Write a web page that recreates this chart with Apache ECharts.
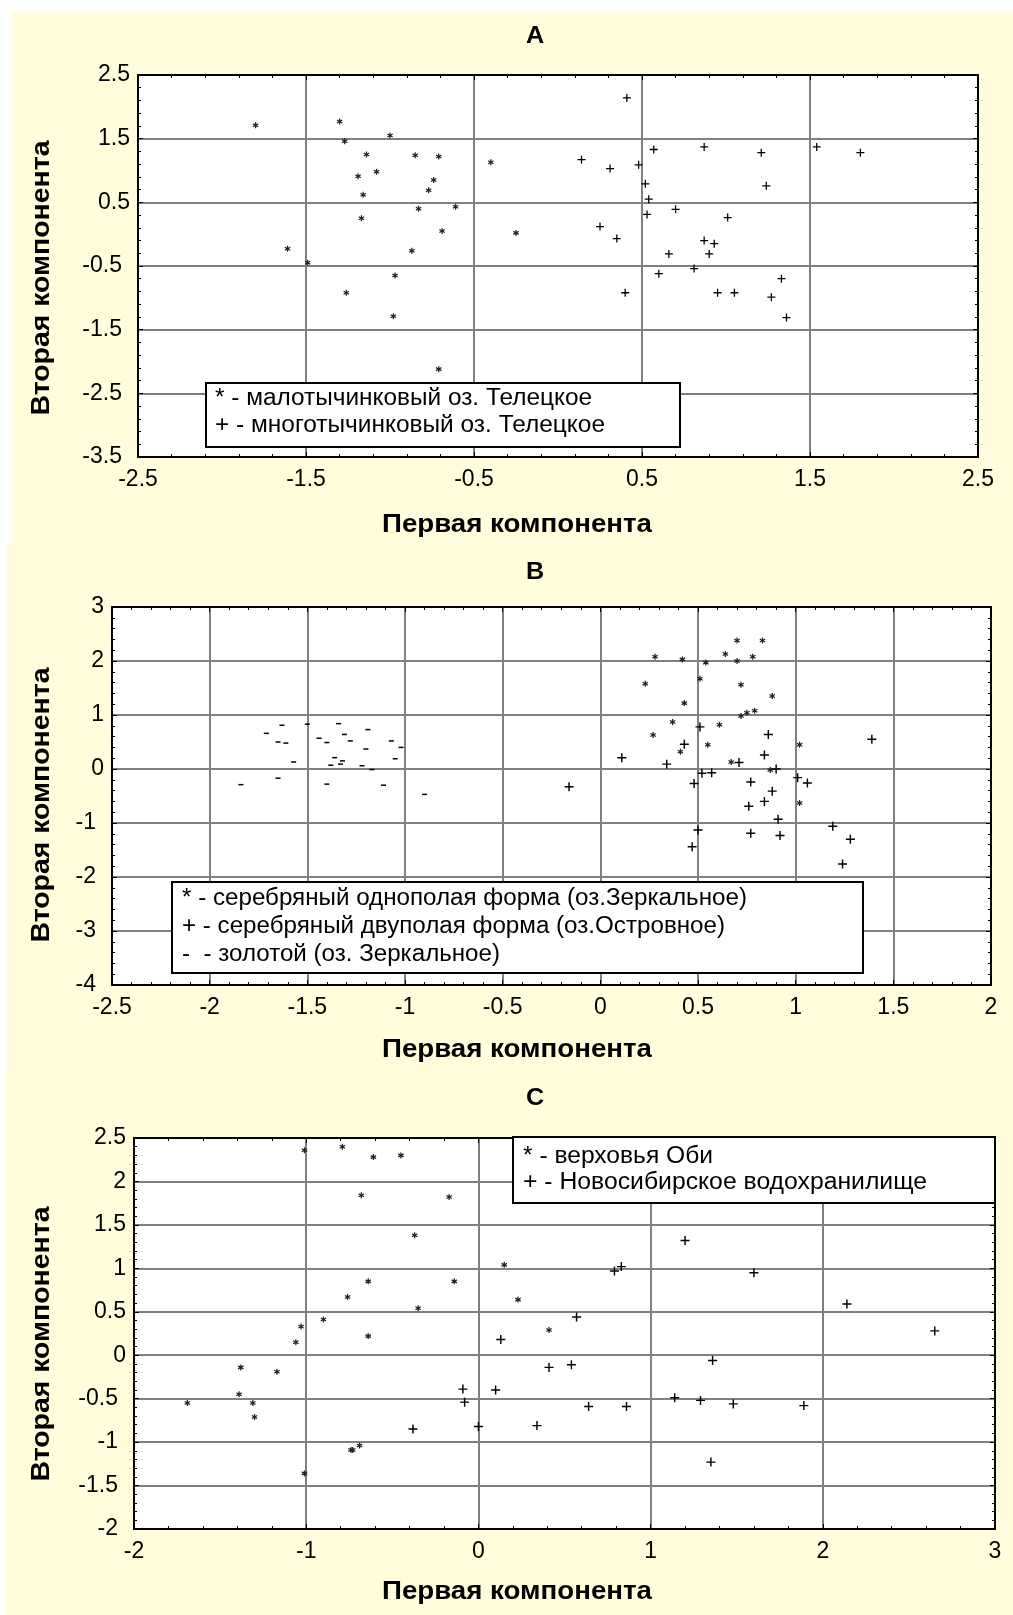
<!DOCTYPE html>
<html><head><meta charset="utf-8">
<script src="https://cdn.jsdelivr.net/npm/echarts@6/dist/echarts.min.js"></script>
<style>html,body{margin:0;padding:0;background:#fff}#c{width:1013px;height:1615px}</style>
</head><body><div id="c"></div><script>
// ---------- DATA ----------
// Panel A
const aTitle = 'A';
const aFewX = [-1.80,-1.30,-1.27,-1.00,-1.14,-0.85,-0.71,-1.19,-1.08,-0.74,-0.77,-1.16,-0.61,-0.83,-1.17,-0.69,-0.87,-1.61,-1.49,-0.97,-1.26,-0.98,-0.71,-0.40,-0.25];
const aFewY = [1.71,1.77,1.46,1.55,1.25,1.24,1.22,0.91,0.98,0.85,0.69,0.62,0.43,0.40,0.25,0.05,-0.26,-0.23,-0.45,-0.65,-0.92,-1.29,-2.12,1.13,0.02];
const aManyX = [0.41,0.57,0.87,1.21,1.54,1.80,0.14,0.31,0.48,0.52,1.24,0.54,0.53,0.70,1.01,0.25,0.35,0.87,0.93,0.90,0.66,0.60,0.81,1.33,0.40,0.95,1.05,1.27,1.36];
const aManyY = [2.14,1.33,1.37,1.28,1.37,1.28,1.17,1.03,1.09,0.79,0.76,0.55,0.31,0.39,0.26,0.12,-0.07,-0.10,-0.15,-0.31,-0.31,-0.62,-0.54,-0.70,-0.92,-0.92,-0.92,-0.99,-1.31];
const aLegend = ['* - малотычинковый оз. Телецкое', '+ - многотычинковый оз. Телецкое'];
const aXTicks = [-2.5, 2.5, 1];   // min, max, step
const aYTicks = [-3.5, 2.5, 1];

// Panel B
const bTitle = 'B';
const bUniX = [0.70,0.83,0.28,0.42,0.54,0.64,0.70,0.78,0.51,0.23,0.72,0.88,0.43,0.72,0.75,0.79,0.37,0.61,0.27,0.55,0.41,1.02,0.67,0.87,1.02];
const bUniY = [2.38,2.38,2.08,2.03,1.97,2.13,2.00,2.08,1.67,1.58,1.56,1.35,1.22,0.98,1.04,1.08,0.87,0.82,0.63,0.45,0.32,0.45,0.13,-0.02,-0.63];
const bBiX = [-0.16,0.51,0.86,1.39,0.43,0.84,0.11,0.34,0.71,0.90,0.52,0.57,1.01,1.06,0.48,0.77,0.88,0.84,0.76,0.91,1.19,0.50,0.77,0.92,1.28,0.47,1.24];
const bBiY = [-0.33,0.78,0.64,0.55,0.46,0.26,0.21,0.09,0.12,0.00,-0.08,-0.07,-0.16,-0.26,-0.27,-0.24,-0.41,-0.60,-0.69,-0.93,-1.06,-1.13,-1.19,-1.23,-1.30,-1.44,-1.76];
const bGoldX = [-1.63,-1.50,-1.34,-1.19,-1.71,-1.31,-1.65,-1.61,-1.44,-1.40,-1.28,-1.07,-1.02,-1.20,-1.36,-1.32,-1.05,-1.57,-1.38,-1.33,-1.22,-1.17,-1.84,-1.65,-1.40,-1.11,-0.90];
const bGoldY = [0.81,0.83,0.84,0.73,0.66,0.64,0.50,0.48,0.57,0.49,0.52,0.52,0.40,0.37,0.21,0.15,0.19,0.13,0.07,0.09,0.06,-0.01,-0.29,-0.17,-0.28,-0.30,-0.47];
const bLegend = ['* - серебряный однополая форма (оз.Зеркальное)', '+ - серебряный двуполая форма (оз.Островное)', '-  - золотой (оз. Зеркальное)'];
const bXTicks = [-2.5, 2, 0.5];
const bYTicks = [-4, 3, 1];

// Panel C
const cTitle = 'C';
const cObX = [-1.01,-0.79,-0.61,-0.45,-0.68,-0.17,-0.37,0.15,-0.64,-0.14,-0.76,-0.35,0.23,-0.90,-1.03,-1.06,-0.64,0.41,-1.38,-1.17,-1.39,-1.69,-1.31,-1.30,-0.74,-0.73,-0.69,-1.01];
const cObY = [2.36,2.40,2.28,2.30,1.84,1.82,1.38,1.04,0.85,0.85,0.67,0.54,0.64,0.41,0.33,0.15,0.22,0.29,-0.14,-0.19,-0.45,-0.55,-0.55,-0.71,-1.09,-1.09,-1.04,-1.36];
const cNovX = [0.13,0.41,-0.09,0.10,-0.08,-0.38,0.00,0.34,0.79,0.83,1.20,1.60,2.14,2.65,0.57,0.54,1.36,0.64,0.86,1.14,1.29,1.48,1.89,1.35];
const cNovY = [0.18,-0.14,-0.39,-0.40,-0.54,-0.85,-0.82,-0.81,0.97,1.02,1.32,0.95,0.59,0.28,0.44,-0.11,-0.06,-0.59,-0.59,-0.49,-0.52,-0.56,-0.58,-1.23];
const cLegend = ['* - верховья Оби', '+ - Новосибирское водохранилище'];
const cXTicks = [-2, 3, 1];
const cYTicks = [-2, 2.5, 0.5];

const xAxisTitle = 'Первая компонента';
const yAxisTitle = 'Вторая компонента';

// ---------- STYLE ----------
const FF = '"Liberation Sans", Arial, Helvetica, sans-serif';
const STAR = 'path://M4,0H6V10H4Z M0.17,6.63L8.83,1.63L9.83,3.37L1.17,8.37Z M1.17,1.63L9.83,6.63L8.83,8.37L0.17,3.37Z';
const PLUS = 'path://M0,4.2H10V5.8H0Z M4.2,0H5.8V10H4.2Z';
const YELLOW = '#FFFDDC';
const TICKFS = 23;

const grids = [
  {left:138, top:75, width:840, height:382},
  {left:112, top:607, width:879, height:378},
  {left:134, top:1138, width:861, height:391}
];

const ctx = document.createElement('canvas').getContext('2d');
function fitScale(text, font, target){ ctx.font = font; return target / ctx.measureText(text).width; }

function lab(v){ return v < 0 ? '{n|' + v + '}' : '{p|' + v + '}'; }
const rich = {
  n:{fontSize:TICKFS, fontFamily:FF, color:'#000', padding:[0,8,0,0]},
  p:{fontSize:TICKFS, fontFamily:FF, color:'#000'}
};

const xAxes = [], yAxes = [];
function addAxes(g, xt, yt){
  const common = (t) => ({type:'value', gridIndex:g, min:t[0], max:t[1], interval:t[2],
    axisLine:{show:true, onZero:false, lineStyle:{color:'#000', width:2}},
    axisTick:{show:true, inside:true, length:5, lineStyle:{color:'#000', width:1}},
    minorTick:{show:true, splitNumber:5, length:3, lineStyle:{color:'#000', width:1}},
    minorSplitLine:{show:false}});
  xAxes.push(Object.assign(common(xt), {position:'bottom',
    splitLine:{show:true, showMinLine:false, showMaxLine:false, lineStyle:{color:'#808080', width:2}},
    axisLabel:{show:true, margin:11, fontSize:TICKFS, fontFamily:FF, color:'#000', showMinLabel:true, showMaxLabel:true}}));
  xAxes.push(Object.assign(common(xt), {position:'top', splitLine:{show:false}, axisLabel:{show:false}}));
  yAxes.push(Object.assign(common(yt), {position:'left',
    splitLine:{show:true, showMinLine:false, showMaxLine:false, lineStyle:{color:'#808080', width:2}},
    axisLabel:{show:true, margin:8, formatter:lab, rich:rich, fontSize:TICKFS, fontFamily:FF, color:'#000', showMinLabel:true, showMaxLabel:true}}));
  yAxes.push(Object.assign(common(yt), {position:'right', splitLine:{show:false}, axisLabel:{show:false}}));
}
addAxes(0, aXTicks, aYTicks);
addAxes(1, bXTicks, bYTicks);
addAxes(2, cXTicks, cYTicks);

function pts(xs, ys){ return xs.map((x,i)=>[x, ys[i]]); }
function sc(g, xs, ys, symbol, size, color){
  return {type:'scatter', xAxisIndex:2*g, yAxisIndex:2*g, data:pts(xs,ys), symbol:symbol, symbolSize:size,
    itemStyle:{color:color, opacity:1}, silent:true, z:5};
}
const series = [
  sc(0, aFewX, aFewY, STAR, 6, '#222'),
  sc(0, aManyX, aManyY, PLUS, 8, '#000'),
  sc(1, bUniX, bUniY, STAR, 6, '#222'),
  sc(1, bBiX, bBiY, PLUS, 9, '#000'),
  sc(1, bGoldX, bGoldY, 'rect', [5,1.5], '#000'),
  sc(2, cObX, cObY, STAR, 6, '#222'),
  sc(2, cNovX, cNovY, PLUS, 9, '#000')
];

// ---------- GRAPHICS (panels, titles, legends) ----------
const g = [];
g.push({type:'rect', z:-10, shape:{x:12, y:11, width:1001, height:532}, style:{fill:YELLOW}});
g.push({type:'rect', z:-10, shape:{x:7, y:543, width:1006, height:530}, style:{fill:YELLOW}});
g.push({type:'rect', z:-10, shape:{x:6, y:1073, width:1007, height:542}, style:{fill:YELLOW}});

const titleFont = 'bold 24px ' + FF;
const axFont = 'bold 25px ' + FF;
const legFont = '23px ' + FF;
function txt(text, x, y, font, align, sx, rot){
  g.push({type:'text', z:100, x:x, y:y, rotation:rot||0, scaleX:sx||1, scaleY:1,
    style:{text:text, font:font, fill:'#000', textAlign:align, textVerticalAlign:'middle'}});
}
// panel titles
[[aTitle,36],[bTitle,572],[cTitle,1098]].forEach(([t,y]) => txt(t, 535, y, titleFont, 'center', 1.05));
// axis titles
[525, 1050, 1592].forEach(y => txt(xAxisTitle, 517, y, axFont, 'center', fitScale(xAxisTitle, axFont, 270)));
[278, 805, 1344].forEach(y => txt(yAxisTitle, 42, y, axFont, 'center', fitScale(yAxisTitle, axFont, 275), Math.PI/2));

// legends
function legend(box, lines, x0, ys, targets){
  g.push({type:'rect', z:99, shape:box, style:{fill:'#fff', stroke:'#000', lineWidth:2}});
  lines.forEach((t,i) => txt(t, x0, ys[i], legFont, 'left', fitScale(t, legFont, targets[i])));
}
legend({x:206, y:383, width:474, height:64}, aLegend, 215, [399, 426], [377, 390]);
legend({x:172, y:882, width:691, height:91}, bLegend, 182, [899, 927, 955], [565, 543, 318]);
legend({x:513, y:1137, width:482, height:66}, cLegend, 523, [1157, 1183], [190, 404]);

const chart = echarts.init(document.getElementById('c'), null, {renderer:'canvas', width:1013, height:1615});
chart.setOption({
  animation:false,
  backgroundColor:'#fff',
  grid: grids.map(gr => Object.assign({show:true, backgroundColor:'#fff', borderWidth:0, containLabel:false}, gr)),
  xAxis: xAxes,
  yAxis: yAxes,
  series: series,
  graphic: {elements: g}
});
</script></body></html>
